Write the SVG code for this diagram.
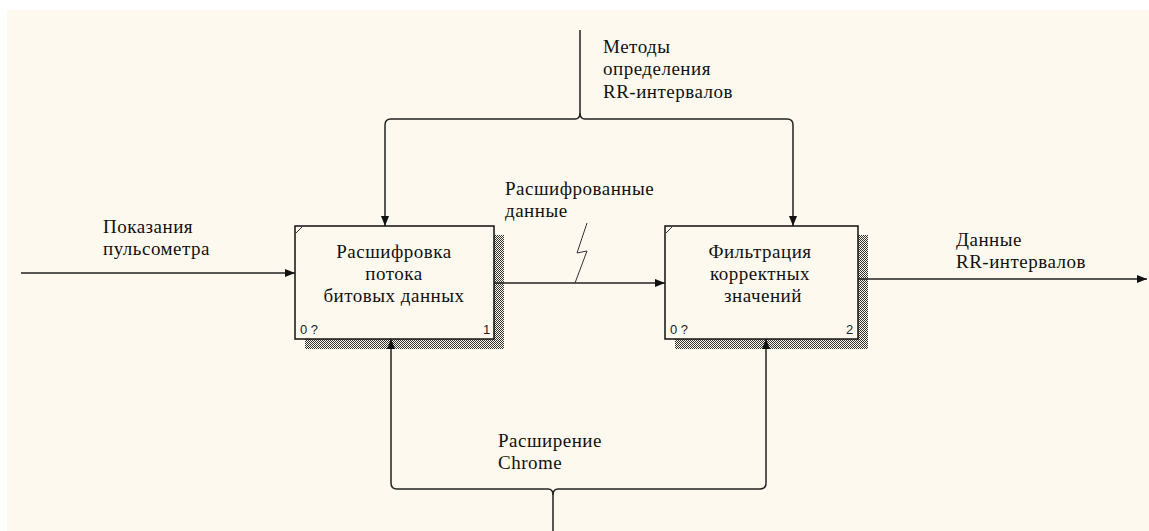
<svg xmlns="http://www.w3.org/2000/svg" width="1149" height="531" viewBox="0 0 1149 531">
  <defs>
    <pattern id="hatch" width="2" height="2" patternUnits="userSpaceOnUse">
      <rect x="0" y="0" width="1" height="1" fill="#333"/>
      <rect x="1" y="1" width="1" height="1" fill="#333"/>
    </pattern>
    <marker id="arrow" viewBox="0 0 10 8" refX="10" refY="4" markerWidth="10" markerHeight="8" markerUnits="userSpaceOnUse" orient="auto">
      <path d="M0,0 L10,4 L0,8 Z" fill="#111"/>
    </marker>
  </defs>
  <style>
    .lbl { font-family: "Liberation Serif", "Times New Roman", serif; font-size: 19px; letter-spacing: 0.5px; fill: #111; }
    .title { font-family: "Liberation Serif", "Times New Roman", serif; font-size: 19px; letter-spacing: 0.5px; fill: #111; text-anchor: middle; }
    .num { font-family: "Liberation Sans", Arial, sans-serif; font-size: 13px; fill: #222; }
    .box { fill: #FEF9EE; stroke: #111; stroke-width: 1.5; }
    .shadow { fill: url(#hatch); }
    .conn { fill: none; stroke: #222; stroke-width: 1.5; }
    .tick { fill: none; stroke: #333; stroke-width: 1; }
  </style>

  <!-- canvas -->
  <rect x="0" y="0" width="1149" height="531" fill="#FFFFFF"/>
  <rect x="7" y="10" width="1142" height="521" fill="#FEF9EE"/>

  <!-- activity 1 -->
  <g id="node-decode">
    <rect class="shadow" x="305" y="235" width="199" height="114"/>
    <rect class="box" x="295" y="226" width="199" height="113"/>
    <path class="tick" d="M296,233 L302,227"/>
    <text class="title" x="394" y="258">Расшифровка</text>
    <text class="title" x="394" y="280">потока</text>
    <text class="title" x="394" y="302">битовых данных</text>
    <text class="num" x="300" y="334">0 ?</text>
    <text class="num" x="483" y="334">1</text>
  </g>

  <!-- activity 2 -->
  <g id="node-filter">
    <rect class="shadow" x="675" y="235" width="193" height="114"/>
    <rect class="box" x="665" y="226" width="193" height="113"/>
    <path class="tick" d="M666,233 L672,227"/>
    <text class="title" x="760" y="258">Фильтрация</text>
    <text class="title" x="760" y="280">корректных</text>
    <text class="title" x="763" y="302">значений</text>
    <text class="num" x="670" y="334">0 ?</text>
    <text class="num" x="846" y="334">2</text>
  </g>

  <!-- arrows -->
  <g id="connectors">
    <!-- input -->
    <path class="conn" d="M21,273 H295" marker-end="url(#arrow)"/>
    <!-- 1 -> 2 -->
    <path class="conn" d="M494,283 H665" marker-end="url(#arrow)"/>
    <path class="tick" d="M587,223 L577,253 L587,251 L575,283"/>
    <!-- output -->
    <path class="conn" d="M858,279 H1147" marker-end="url(#arrow)"/>
    <!-- control bundle -->
    <path class="conn" d="M580,30 V113 Q580,119 575,119 H391 Q385,119 385,125 V226" marker-end="url(#arrow)"/>
    <path class="conn" d="M580,113 Q580,119 585,119 H787 Q793,119 793,125 V226" marker-end="url(#arrow)"/>
    <!-- mechanism bundle -->
    <path class="conn" d="M553,531 V495 Q553,489 548,489 H397 Q391,489 391,483 V339" marker-end="url(#arrow)"/>
    <path class="conn" d="M553,495 Q553,489 558,489 H760 Q766,489 766,483 V339" marker-end="url(#arrow)"/>
  </g>

  <!-- arrow labels -->
  <g id="labels">
    <text class="lbl" x="103" y="233">Показания</text>
    <text class="lbl" x="103" y="255">пульсометра</text>
    <text class="lbl" x="603" y="53">Методы</text>
    <text class="lbl" x="603" y="75">определения</text>
    <text class="lbl" x="603" y="98">RR-интервалов</text>
    <text class="lbl" x="505" y="195">Расшифрованные</text>
    <text class="lbl" x="505" y="217">данные</text>
    <text class="lbl" x="956" y="246">Данные</text>
    <text class="lbl" x="956" y="268">RR-интервалов</text>
    <text class="lbl" x="498" y="447">Расширение</text>
    <text class="lbl" x="498" y="469">Chrome</text>
  </g>
</svg>
